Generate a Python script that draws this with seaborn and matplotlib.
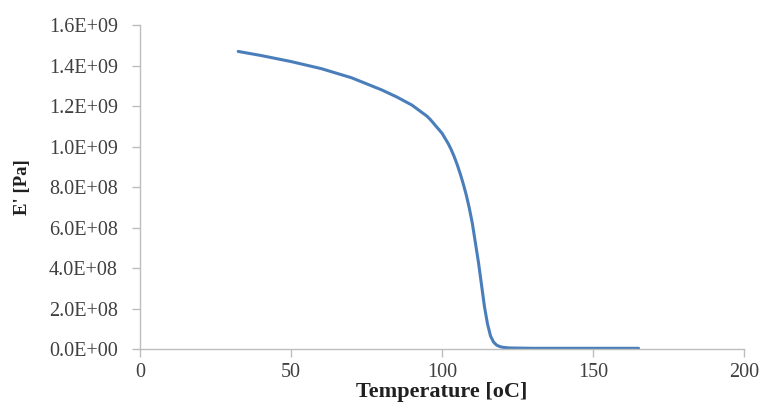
import numpy as np
import pandas as pd
import matplotlib
matplotlib.use("Agg")
import matplotlib.pyplot as plt
from matplotlib.ticker import FuncFormatter
import seaborn as sns

temperature = [32.5, 40, 50, 60, 70, 80, 85, 90, 95, 96, 97, 98, 99, 100, 101, 102,
               103, 104, 105, 106, 107, 108, 109, 110, 111, 112, 113, 114, 115, 116,
               117, 118, 119, 120, 122, 125, 130, 140, 150, 165]
modulus = [1.47e9, 1.45e9, 1.42e9, 1.385e9, 1.34e9, 1.28e9, 1.245e9, 1.205e9, 1.15e9,
           1.135e9, 1.118e9, 1.10e9, 1.083e9, 1.065e9, 1.04e9, 1.015e9, 0.985e9,
           0.95e9, 0.91e9, 0.865e9, 0.815e9, 0.76e9, 0.695e9, 0.62e9, 0.525e9, 0.43e9,
           0.32e9, 0.21e9, 0.125e9, 0.065e9, 0.035e9, 0.02e9, 0.013e9, 0.009e9,
           0.006e9, 0.005e9, 0.004e9, 0.004e9, 0.004e9, 0.004e9]

df = pd.DataFrame({"T": temperature, "E": modulus})

sns.set_style("white")
plt.rcParams["font.family"] = ["Liberation Serif", "DejaVu Serif"]

fig = plt.figure(figsize=(7.63, 4.05), dpi=100)
ax = fig.add_axes([0.1835, 0.138, 0.792, 0.800])

sns.lineplot(data=df, x="T", y="E", ax=ax, color="#4a7ebb", linewidth=2.2)

ax.set_xlim(0, 200)
ax.set_ylim(0, 1.6e9)
ax.set_xticks([0, 50, 100, 150, 200])
ax.set_yticks(np.arange(0, 1.61e9, 2e8))
ax.yaxis.set_major_formatter(FuncFormatter(lambda v, p: f"{v:.1E}"))

for s in ["top", "right"]:
    ax.spines[s].set_visible(False)
for s in ["left", "bottom"]:
    ax.spines[s].set_color("#bdbdbd")
    ax.spines[s].set_linewidth(1.0)

ax.tick_params(axis="both", direction="out", length=6, width=1, color="#bdbdbd",
               labelsize=14.5, labelcolor="#404040", bottom=True, left=True)
ax.tick_params(axis="y", pad=10)
ax.tick_params(axis="x", pad=4)

ax.set_xlabel("Temperature [oC]", fontsize=16, fontweight="bold", labelpad=0,
              color="#202020")
ax.set_ylabel("E' [Pa]", fontsize=13.5, fontweight="bold", labelpad=13,
              color="#202020")

fig.savefig("out.png", dpi=100)
